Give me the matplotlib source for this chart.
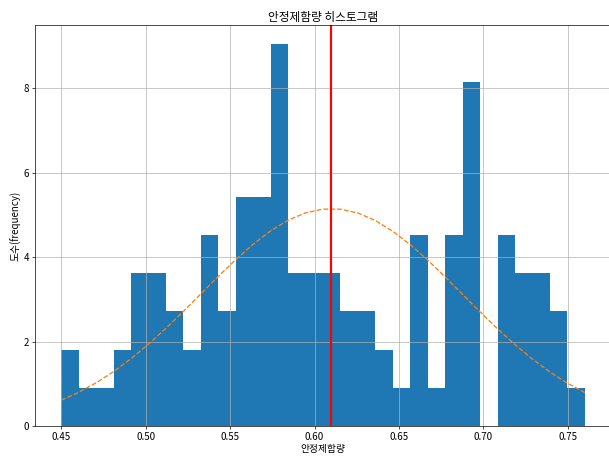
import numpy as np
import matplotlib
matplotlib.use('Agg')
import matplotlib.pyplot as plt

plt.rcParams['font.family'] = ['Noto Sans CJK KR', 'DejaVu Sans']
plt.rcParams['axes.unicode_minus'] = False
plt.rcParams['font.size'] = 11.3

# 30 bins from 0.45 to 0.76, counts (n = 107)
bin_lo = 0.45
bin_hi = 0.76
n_bins = 30
counts = [2, 1, 1, 2, 4, 4, 3, 2, 5, 3,
          6, 6, 10, 4, 4, 4, 3, 3, 2, 1,
          5, 1, 5, 9, 0, 5, 4, 4, 3, 1]
mu = 0.61
sigma = 0.0775

edges = np.linspace(bin_lo, bin_hi, n_bins + 1)
centers = (edges[:-1] + edges[1:]) / 2

dpi = 62
fig = plt.figure(figsize=(609 / dpi, 458 / dpi), dpi=dpi)
ax = fig.add_axes([35 / 609, 1 - 426 / 458, 576 / 609, 401 / 458])

n, bins, patches = ax.hist(centers, bins=edges, weights=counts, density=True)
y = 1 / (np.sqrt(2 * np.pi) * sigma) * np.exp(-0.5 * (1 / sigma * (bins - mu)) ** 2)
ax.plot(bins, y, '--')
ax.axvline(mu, color='red', linewidth=2.5)

ax.set_title('안정제함량 히스토그램', fontsize=13.6, pad=5)
ax.set_xlabel('안정제함량', labelpad=2)
ax.set_ylabel('도수(frequency)', labelpad=2)
ax.grid(True)

fig.savefig('out.png', dpi=dpi)
